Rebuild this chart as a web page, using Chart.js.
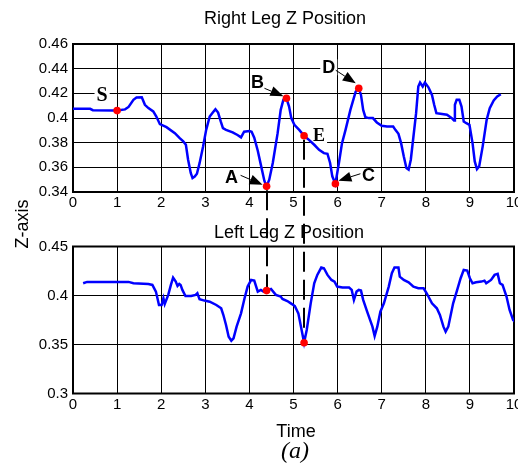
<!DOCTYPE html>
<html>
<head>
<meta charset="utf-8">
<script src="https://cdn.jsdelivr.net/npm/chart.js@4.4.1/dist/chart.umd.min.js"></script>
<style>
  body { margin: 0; background: #fff; }
  #wrap { position: relative; width: 518px; height: 464px; overflow: hidden; }
  #wrap canvas { position: absolute; left: 0; top: 0; }
</style>
</head>
<body>
<div id="wrap">
  <canvas id="rightLeg" width="518" height="464"></canvas>
  <canvas id="leftLeg" width="518" height="464"></canvas>
</div>
<script>
// Right leg Z position (time in s, z in m)
const rightTime = [
  0, 0.39, 0.45, 0.92, 1.0, 1.18, 1.26, 1.37, 1.44, 1.56,
  1.63, 1.71, 1.82, 1.89, 1.97, 2.12, 2.31, 2.42, 2.5, 2.56,
  2.61, 2.67, 2.71, 2.76, 2.81, 2.87, 2.95, 3.02, 3.1, 3.17,
  3.23, 3.29, 3.35, 3.4, 3.47, 3.62, 3.73, 3.81, 3.88, 4.0,
  4.05, 4.11, 4.19, 4.26, 4.34, 4.39, 4.45, 4.53, 4.64, 4.71,
  4.77, 4.84, 4.9, 4.95, 5.02, 5.13, 5.24, 5.35, 5.47, 5.58,
  5.69, 5.77, 5.83, 5.88, 5.95, 6.03, 6.1, 6.18, 6.29, 6.41,
  6.48, 6.53, 6.58, 6.63, 6.71, 6.8, 6.89, 7.0, 7.12, 7.26,
  7.31, 7.38, 7.44, 7.5, 7.56, 7.61, 7.66, 7.72, 7.78, 7.83,
  7.87, 7.93, 7.98, 8.06, 8.14, 8.19, 8.24, 8.33, 8.48, 8.59,
  8.64, 8.66, 8.7, 8.76, 8.81, 8.86, 8.92, 8.99, 9.06, 9.11,
  9.16, 9.21, 9.29, 9.38, 9.45, 9.54, 9.62, 9.7
];
const rightZ = [
  0.4074, 0.4074, 0.4063, 0.406, 0.406, 0.407, 0.409, 0.4147, 0.4166, 0.4168,
  0.4107, 0.408, 0.4053, 0.4012, 0.395, 0.3926, 0.3877, 0.3837, 0.381, 0.3783,
  0.3662, 0.3554, 0.3513, 0.3526, 0.3548, 0.3634, 0.3769, 0.3904, 0.4012, 0.4044,
  0.4071, 0.4044, 0.3972, 0.3918, 0.3904, 0.3883, 0.3862, 0.3843, 0.3889, 0.3895,
  0.3889, 0.384, 0.3735, 0.362, 0.349, 0.3446, 0.35, 0.3635, 0.3877, 0.4066,
  0.4147, 0.416, 0.4093, 0.3999, 0.3945, 0.3904, 0.3856, 0.3823, 0.3783, 0.3742,
  0.3715, 0.371, 0.3635, 0.3527, 0.3467, 0.3635, 0.3796, 0.3904, 0.4066, 0.4214,
  0.4241, 0.4187, 0.4066, 0.4007, 0.3999, 0.3999, 0.3964, 0.3937, 0.3931, 0.3931,
  0.3904, 0.3872, 0.3796, 0.3689, 0.3594, 0.3581, 0.3662, 0.385, 0.4039, 0.4255,
  0.4287, 0.4255, 0.4287, 0.4249, 0.4187, 0.4107, 0.4039, 0.4034, 0.4026, 0.3999,
  0.398, 0.4107, 0.4147, 0.4147, 0.4093, 0.3972, 0.3958, 0.3945, 0.3796, 0.3648,
  0.3586, 0.3608, 0.377, 0.3985, 0.408, 0.4142, 0.4174, 0.4193
];

// Left leg Z position
const leftTime = [
  0.23, 0.32, 0.62, 1.26, 1.37, 1.71, 1.8, 1.88, 1.95, 2.01,
  2.05, 2.08, 2.16, 2.22, 2.27, 2.33, 2.37, 2.41, 2.44, 2.48,
  2.55, 2.68, 2.78, 2.82, 2.87, 2.98, 3.1, 3.25, 3.36, 3.41,
  3.47, 3.53, 3.59, 3.64, 3.71, 3.81, 3.89, 3.96, 4.04, 4.11,
  4.19, 4.26, 4.32, 4.39, 4.49, 4.6, 4.71, 4.75, 4.86, 4.94,
  5.03, 5.11, 5.17, 5.24, 5.3, 5.39, 5.47, 5.54, 5.63, 5.69,
  5.77, 5.86, 5.93, 5.99, 6.11, 6.26, 6.32, 6.37, 6.43, 6.48,
  6.53, 6.58, 6.67, 6.79, 6.84, 6.9, 6.97, 7.05, 7.16, 7.23,
  7.29, 7.38, 7.41, 7.5, 7.61, 7.72, 7.83, 7.95, 8.02, 8.14,
  8.25, 8.32, 8.4, 8.45, 8.51, 8.62, 8.7, 8.79, 8.86, 8.94,
  9.0, 9.06, 9.14, 9.26, 9.33, 9.37, 9.48, 9.56, 9.63, 9.68,
  9.74, 9.83, 9.9, 9.98, 10.05
];
const leftZ = [
  0.4125, 0.4139, 0.4139, 0.4139, 0.4125, 0.4118, 0.4108, 0.404, 0.3903, 0.3903,
  0.3972, 0.3914, 0.4006, 0.4108, 0.4183, 0.4142, 0.4098, 0.4118, 0.4108, 0.4057,
  0.3995, 0.3995, 0.4006, 0.4023, 0.3961, 0.3948, 0.3937, 0.3903, 0.3869, 0.3801,
  0.3699, 0.358, 0.3539, 0.3563, 0.3682, 0.3818, 0.3972, 0.4091, 0.4159, 0.4152,
  0.404, 0.4057, 0.404, 0.405, 0.4067, 0.4006, 0.3989, 0.3965, 0.3944, 0.392,
  0.3893, 0.3818, 0.3682, 0.3518, 0.3648, 0.392, 0.4125, 0.421, 0.4285, 0.4278,
  0.421, 0.4159, 0.4142, 0.4091, 0.4081, 0.4081, 0.4057, 0.3955, 0.404, 0.4057,
  0.405, 0.3955, 0.3835, 0.3682, 0.3586, 0.3682, 0.3835, 0.392, 0.4091, 0.4227,
  0.4285, 0.4285, 0.4193, 0.4159, 0.4135, 0.4091, 0.4074, 0.4074, 0.4023, 0.392,
  0.3869, 0.3801, 0.3682, 0.3631, 0.3682, 0.392, 0.404, 0.4176, 0.4261, 0.4255,
  0.4176, 0.4125, 0.4135, 0.4142, 0.4152, 0.4125, 0.4159, 0.421, 0.4221, 0.4125,
  0.4108, 0.3989, 0.3852, 0.375, 0.372
];

// gait events marked on the right leg curve
const rightMarkerNames = ['S', 'A', 'B', 'E', 'C', 'D'];
const rightMarkerTime = [1.0, 4.39, 4.84, 5.24, 5.95, 6.48];
const rightMarkerZ = [0.406, 0.3446, 0.416, 0.3856, 0.3467, 0.4241];

// matching instants on the left leg curve (joined to A and E)
const linkedNames = ['A', 'E'];
const leftMarkerTime = [4.39, 5.24];
const leftMarkerZ = [0.405, 0.3518];

const timeTicks = [0, 1, 2, 3, 4, 5, 6, 7, 8, 9, 10];
const rightZTicks = [0.34, 0.36, 0.38, 0.4, 0.42, 0.44, 0.46];
const leftZTicks = [0.3, 0.35, 0.4, 0.45];

const SANS = "'Liberation Sans', Arial, Helvetica, sans-serif";
const SERIF = "'Liberation Serif', 'Times New Roman', serif";
Chart.defaults.font.family = SANS;

// label placement around each marked point (pixels relative to the point)
const callouts = {
  S: { font: 'bold 20px ' + SERIF, dx: -15, dy: -16, box: true },
  A: { font: 'bold 18px ' + SANS, dx: -35, dy: -9, tail: [-26, -11], tip: [-4, -1.5] },
  B: { font: 'bold 18px ' + SANS, dx: -29, dy: -16, tail: [-22, -10], tip: [-3, -2] },
  E: { font: 'bold 18px ' + SERIF, dx: 15, dy: 0, box: true },
  C: { font: 'bold 18px ' + SANS, dx: 33, dy: -9, tail: [25, -10], tip: [3, -3] },
  D: { font: 'bold 18px ' + SANS, dx: -30, dy: -21, tail: [-23, -18], tip: [-3, -5], box: true }
};

function toPoints(xs, ys) {
  return xs.map((x, i) => ({ x: x, y: ys[i] }));
}

function drawArrow(ctx, x0, y0, x1, y1) {
  const ang = Math.atan2(y1 - y0, x1 - x0);
  const len = 13, half = 5;
  const bx = x1 - len * Math.cos(ang);
  const by = y1 - len * Math.sin(ang);
  ctx.beginPath();
  ctx.moveTo(x0, y0);
  ctx.lineTo(bx, by);
  ctx.lineWidth = 1;
  ctx.stroke();
  ctx.beginPath();
  ctx.moveTo(x1, y1);
  ctx.lineTo(bx + half * Math.sin(ang), by - half * Math.cos(ang));
  ctx.lineTo(bx - half * Math.sin(ang), by + half * Math.cos(ang));
  ctx.closePath();
  ctx.fill();
}

function drawText(ctx, text, x, y, font, opts) {
  opts = opts || {};
  ctx.save();
  ctx.font = font;
  ctx.fillStyle = '#000';
  ctx.textAlign = opts.align || 'center';
  ctx.textBaseline = opts.baseline || 'alphabetic';
  ctx.translate(x, y);
  if (opts.rotate) ctx.rotate(opts.rotate);
  ctx.fillText(text, 0, 0);
  ctx.restore();
}

// box round the plot area
const framePlugin = {
  id: 'frame',
  beforeDatasetsDraw(chart) {
    const { ctx, chartArea: a } = chart;
    ctx.save();
    ctx.strokeStyle = '#000';
    ctx.lineWidth = 2;
    ctx.strokeRect(a.left, a.top, a.width, a.height);
    ctx.restore();
  }
};

function scaleOptions(zTicks) {
  return {
    x: {
      type: 'linear',
      min: timeTicks[0],
      max: timeTicks[timeTicks.length - 1],
      afterBuildTicks(s) { s.ticks = timeTicks.map(v => ({ value: v })); },
      ticks: { padding: 2, autoSkip: false, maxRotation: 0, color: '#000', font: { size: 15 } },
      grid: { color: '#000', lineWidth: 1, drawTicks: false },
      border: { display: false },
      afterFit(s) { s.height = 20; s.paddingLeft = 0; s.paddingRight = 0; }
    },
    y: {
      type: 'linear',
      min: zTicks[0],
      max: zTicks[zTicks.length - 1],
      afterBuildTicks(s) { s.ticks = zTicks.map(v => ({ value: v })); },
      ticks: { padding: 5, color: '#000', font: { size: 15 }, callback: v => String(+v.toFixed(2)) },
      grid: { color: '#000', lineWidth: 1, drawTicks: false },
      border: { display: false },
      afterFit(s) { s.width = 73; }
    }
  };
}

function baseOptions(padding, zTicks) {
  return {
    responsive: false,
    animation: false,
    devicePixelRatio: 1,
    events: [],
    layout: { padding: padding },
    plugins: { legend: { display: false }, tooltip: { enabled: false }, title: { display: false } },
    scales: scaleOptions(zTicks)
  };
}

// title, callout letters and arrows of the right leg plot
const rightLegNotes = {
  id: 'rightLegNotes',
  beforeDatasetsDraw(chart) {
    const ctx = chart.ctx;
    const xs = chart.scales.x, ys = chart.scales.y;
    ctx.save();
    ctx.fillStyle = '#000';
    ctx.strokeStyle = '#000';
    rightMarkerNames.forEach((name, i) => {
      const c = callouts[name];
      const px = xs.getPixelForValue(rightMarkerTime[i]);
      const py = ys.getPixelForValue(rightMarkerZ[i]);
      ctx.font = c.font;
      if (c.box) {
        const w = ctx.measureText(name).width;
        ctx.fillStyle = '#fff';
        ctx.fillRect(px + c.dx - w / 2 - 2, py + c.dy - 8, w + 4, 16);
        ctx.fillStyle = '#000';
      }
      ctx.textAlign = 'center';
      ctx.textBaseline = 'middle';
      ctx.fillText(name, px + c.dx, py + c.dy + 1);
      if (c.tail) {
        drawArrow(ctx, px + c.tail[0], py + c.tail[1], px + c.tip[0], py + c.tip[1]);
      }
    });
    ctx.restore();
  },
  afterDraw(chart) {
    drawText(chart.ctx, 'Right Leg Z Position', 285, 24, '18px ' + SANS);
  }
};

const rightLegChart = new Chart(document.getElementById('rightLeg'), {
  type: 'line',
  data: {
    datasets: [
      {
        data: toPoints(rightMarkerTime, rightMarkerZ),
        showLine: false,
        pointRadius: 3.8,
        pointBorderWidth: 0,
        pointBackgroundColor: '#ff0000'
      },
      {
        data: toPoints(rightTime, rightZ),
        borderColor: '#0000ff',
        borderWidth: 2.5,
        pointRadius: 0,
        tension: 0,
        fill: false
      }
    ]
  },
  options: baseOptions({ left: 0, right: 2, top: 44, bottom: 252 }, rightZTicks),
  plugins: [framePlugin, rightLegNotes]
});

// dashed links to the right leg events, plus the shared labels
const leftLegNotes = {
  id: 'leftLegNotes',
  beforeDatasetsDraw(chart) {
    const ctx = chart.ctx;
    ctx.save();
    ctx.strokeStyle = '#000';
    ctx.lineWidth = 2;
    ctx.setLineDash([20, 8]);
    linkedNames.forEach((name, i) => {
      const k = rightMarkerNames.indexOf(name);
      const x = Math.round(chart.scales.x.getPixelForValue(leftMarkerTime[i]));
      const y0 = rightLegChart.scales.y.getPixelForValue(rightMarkerZ[k]) + 4;
      const y1 = chart.scales.y.getPixelForValue(leftMarkerZ[i]);
      ctx.beginPath();
      ctx.moveTo(x, y0);
      ctx.lineTo(x, y1);
      ctx.stroke();
    });
    ctx.restore();
  },
  afterDraw(chart) {
    const ctx = chart.ctx;
    drawText(ctx, 'Left Leg Z Position', 289, 238, '18px ' + SANS);
    drawText(ctx, 'Time', 296, 437, '18px ' + SANS);
    drawText(ctx, '(a)', 295, 458, 'italic 24px ' + SERIF);
    drawText(ctx, 'Z-axis', 28, 224, '18px ' + SANS, { rotate: -Math.PI / 2 });
  }
};

const leftLegChart = new Chart(document.getElementById('leftLeg'), {
  type: 'line',
  data: {
    datasets: [
      {
        data: toPoints(leftMarkerTime, leftMarkerZ),
        showLine: false,
        pointRadius: 3.8,
        pointBorderWidth: 0,
        pointBackgroundColor: '#ff0000'
      },
      {
        data: toPoints(leftTime, leftZ),
        borderColor: '#0000ff',
        borderWidth: 2.5,
        pointRadius: 0,
        tension: 0,
        fill: false
      }
    ]
  },
  options: baseOptions({ left: 0, right: 2, top: 246.5, bottom: 50.5 }, leftZTicks),
  plugins: [framePlugin, leftLegNotes]
});
</script>
</body>
</html>
